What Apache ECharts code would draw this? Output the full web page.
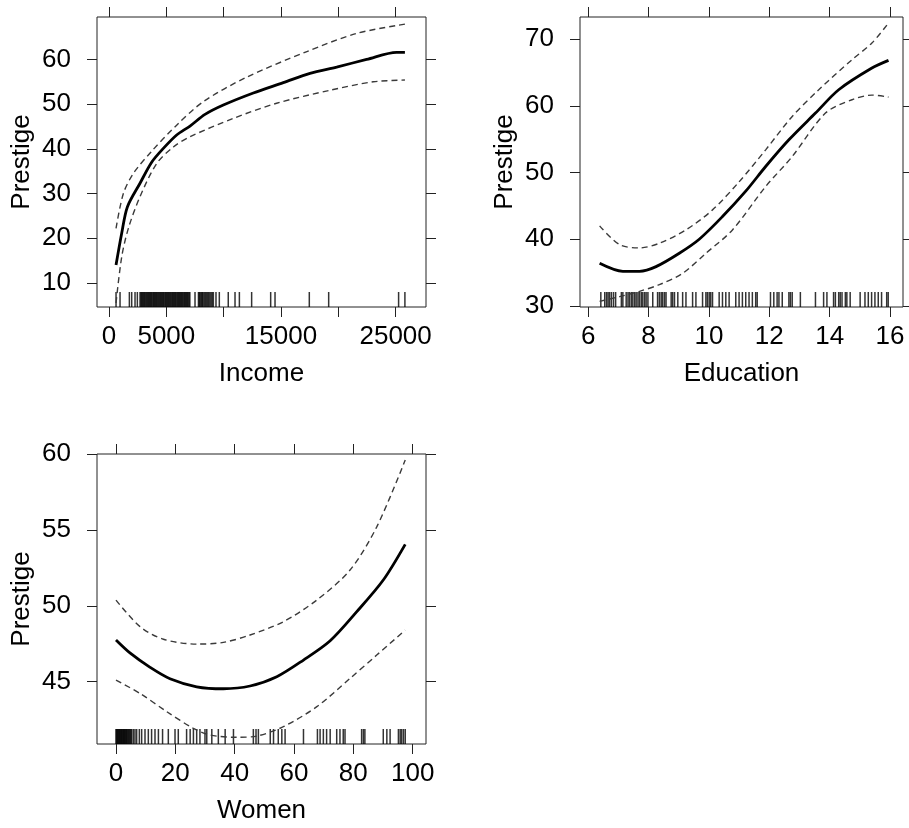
<!DOCTYPE html>
<html lang="en">
<head>
    <meta charset="UTF-8">
    <title>Effect plots</title>
    <style>
        body { margin: 0; background: #fff; }
        #main { width: 909px; height: 828px; }
    </style>
</head>
<body>
    <div id="main"></div>

    <script src="https://cdn.jsdelivr.net/npm/echarts@6/dist/echarts.min.js"></script>
    <script>
        // Income panel
        var incomeX = [610, 1105, 1599, 2703, 3720, 4738, 5900, 7063, 8371, 9970, 12586, 15200, 17527, 19855, 22470, 25085, 25810];
        var incomeFit = [14.0, 21.1, 27.0, 32.3, 37.0, 40.1, 43.1, 45.1, 47.7, 49.8, 52.5, 54.8, 56.9, 58.3, 60.0, 61.6, 61.6];
        var incomeUpX = [610, 1250, 2122, 3662, 5900, 8196, 11974, 17200, 21560, 25810];
        var incomeUp = [22.2, 30.0, 34.5, 39.3, 45.3, 50.5, 56.0, 61.7, 65.8, 67.9];
        var incomeLoX = [610, 1105, 1686, 2703, 4156, 5610, 7063, 10840, 14620, 19274, 23050, 25810];
        var incomeLo = [5.5, 15.8, 22.2, 29.3, 36.7, 40.4, 42.7, 46.8, 50.2, 53.1, 55.0, 55.4];
        var incomeRug = [611, 960, 1774, 1977, 2267, 2470, 2703, 2780, 2850, 2930, 3000, 3080, 3150, 3230, 3300,
            3380, 3450, 3530, 3600, 3680, 3750, 3830, 3900, 3980, 4050, 4130, 4200, 4280, 4350, 4430, 4500,
            4580, 4650, 4730, 4800, 4880, 4950, 5030, 5100, 5180, 5250, 5330, 5400, 5480, 5550, 5630, 5700,
            5780, 5850, 5930, 6000, 6080, 6150, 6230, 6300, 6380, 6450, 6530, 6600, 6680, 6750, 6830, 6900,
            6980, 7050, 7500, 7800, 7880, 7950, 8050, 8130, 8200, 8300, 8400, 8500, 8600, 8700, 8800, 8900,
            9000, 9100, 9330, 9620, 10400, 10990, 11370, 12440, 14100, 14480, 17470, 19160, 25260, 25810];
        var incomeTicks = [0, 5000, 10000, 15000, 20000, 25000];
        var incomeLabels = [0, 5000, 15000, 25000];
        var incomeYTicks = [10, 20, 30, 40, 50, 60];

        // Education panel
        var eduX = [6.38, 7.15, 7.70, 8.25, 9.02, 9.68, 10.45, 11.22, 11.88, 12.65, 13.53, 14.30, 15.40, 15.95];
        var eduFit = [36.4, 35.2, 35.2, 35.9, 37.9, 40.0, 43.4, 47.2, 50.9, 54.9, 58.9, 62.4, 65.65, 66.8];
        var eduUpX = [6.38, 7.04, 7.70, 8.36, 9.24, 10.12, 11.00, 11.88, 12.76, 13.64, 14.74, 15.40, 15.95];
        var eduUp = [42.0, 39.2, 38.7, 39.4, 41.4, 44.4, 48.6, 53.4, 58.4, 62.4, 66.9, 69.4, 72.4];
        var eduLoX = [6.38, 7.04, 7.70, 8.36, 9.13, 9.90, 10.78, 11.88, 12.76, 13.86, 14.74, 15.40, 15.95];
        var eduLo = [30.7, 31.4, 32.2, 33.2, 34.9, 37.9, 41.4, 47.9, 52.4, 58.9, 60.9, 61.6, 61.3];
        var eduRug = [6.42, 6.55, 6.61, 6.66, 6.71, 6.77, 6.84, 6.91, 7.10, 7.15, 7.26, 7.32, 7.37, 7.43, 7.48,
            7.54, 7.59, 7.65, 7.70, 7.76, 7.81, 7.87, 7.92, 7.98, 8.14, 8.30, 8.36, 8.42, 8.47, 8.53, 8.58,
            8.75, 8.80, 8.86, 8.97, 9.13, 9.24, 9.46, 9.57, 9.79, 9.90, 9.95, 10.01, 10.06, 10.12, 10.34,
            10.45, 10.56, 10.67, 10.89, 11.00, 11.11, 11.22, 11.33, 11.44, 11.55, 11.60, 12.04, 12.15, 12.26,
            12.32, 12.43, 12.65, 12.70, 12.76, 13.03, 13.53, 13.80, 13.91, 14.13, 14.19, 14.30, 14.35, 14.41,
            14.52, 14.57, 14.68, 15.01, 15.17, 15.28, 15.39, 15.50, 15.61, 15.72, 15.89, 15.94];
        var eduTicks = [6, 8, 10, 12, 14, 16];
        var eduYTicks = [30, 40, 50, 60, 70];

        // Women panel
        var womenX = [0, 4.7, 11.5, 18.2, 27.2, 36.2, 45.2, 54.2, 63.2, 72.2, 81.1, 90.1, 97.5];
        var womenFit = [47.75, 46.9, 45.95, 45.2, 44.67, 44.54, 44.72, 45.33, 46.43, 47.7, 49.6, 51.7, 54.05];
        var womenUpX = [0, 8.1, 16.0, 27.2, 36.2, 45.2, 56.4, 67.7, 78.9, 87.9, 97.5];
        var womenUp = [50.38, 48.63, 47.8, 47.48, 47.59, 48.08, 48.95, 50.38, 52.36, 55.2, 59.6];
        var womenLoX = [0, 8.1, 17.1, 26.1, 31.7, 40.7, 47.4, 56.4, 67.7, 78.9, 87.9, 97.5];
        var womenLo = [45.11, 44.23, 43.03, 41.93, 41.49, 41.34, 41.42, 42.04, 43.36, 45.22, 46.76, 48.4];
        var womenRug = [0, 0.2, 0.45, 0.65, 0.9, 1.1, 1.35, 1.55, 1.8, 2.0, 2.25, 2.5, 2.7, 2.9, 3.15, 3.4, 3.6,
            3.9, 4.16, 4.45, 4.72, 5.0, 5.28, 5.84, 6.4, 6.97, 7.87, 8.65, 9.78, 10.9, 12.0, 13.15, 14.3, 15.7,
            17.64, 19.9, 21.0, 23.8, 25.0, 26.1, 27.2, 28.3, 30.0, 30.6, 32.3, 34.5, 36.8, 39.6, 46.3, 47.2,
            48.0, 52.0, 53.1, 54.7, 55.9, 57.0, 63.2, 67.9, 68.8, 69.9, 71.0, 72.2, 74.4, 75.5, 76.6, 77.2,
            82.8, 83.4, 83.9, 90.1, 91.3, 92.4, 95.2, 95.8, 96.3, 96.9, 97.5];
        var womenTicks = [0, 20, 40, 60, 80, 100];
        var womenYTicks = [45, 50, 55, 60];

        var FONT = 'Liberation Sans, Arial, sans-serif';
        var FS = 26;

        function pair(xs, ys) {
            return xs.map(function (x, i) { return [x, ys[i]]; });
        }
        function plain(v) { return String(v); }

        var panels = [
            { grid: { left: 97, top: 17, width: 329, height: 290 }, xmin: -1050, xmax: 27650, ymin: 4.6, ymax: 69.5,
              xTicks: incomeTicks, xLabels: incomeLabels, yTicks: incomeYTicks, xName: 'Income',
              fit: pair(incomeX, incomeFit), up: pair(incomeUpX, incomeUp), lo: pair(incomeLoX, incomeLo), rug: incomeRug },
            { grid: { left: 580, top: 17, width: 323, height: 290 }, xmin: 5.73, xmax: 16.43, ymin: 29.85, ymax: 73.3,
              xTicks: eduTicks, xLabels: eduTicks, yTicks: eduYTicks, xName: 'Education',
              fit: pair(eduX, eduFit), up: pair(eduUpX, eduUp), lo: pair(eduLoX, eduLo), rug: eduRug },
            { grid: { left: 97, top: 454, width: 329, height: 290 }, xmin: -6.4, xmax: 104.5, ymin: 40.9, ymax: 60,
              xTicks: womenTicks, xLabels: womenTicks, yTicks: womenYTicks, xName: 'Women',
              fit: pair(womenX, womenFit), up: pair(womenUpX, womenUp), lo: pair(womenLoX, womenLo), rug: womenRug }
        ];

        var grids = [], xAxes = [], yAxes = [], series = [];
        var tick = { show: true, length: 10, inside: false, lineStyle: { color: '#222', width: 1 } };
        var noLine = { show: false, onZero: false };

        panels.forEach(function (p, i) {
            grids.push(Object.assign({ show: true, borderColor: '#222', borderWidth: 1, containLabel: false }, p.grid));
            xAxes.push({
                type: 'value', gridIndex: i, position: 'bottom', min: p.xmin, max: p.xmax,
                name: p.xName, nameLocation: 'middle', nameGap: 54,
                nameTextStyle: { fontFamily: FONT, fontSize: FS, color: '#000' },
                axisLine: noLine, splitLine: { show: false },
                axisTick: Object.assign({ customValues: p.xTicks }, tick),
                axisLabel: { customValues: p.xLabels, formatter: plain, margin: 17, fontFamily: FONT, fontSize: FS, color: '#000' }
            });
            xAxes.push({
                type: 'value', gridIndex: i, position: 'top', min: p.xmin, max: p.xmax,
                axisLine: noLine, splitLine: { show: false },
                axisTick: Object.assign({ customValues: p.xTicks }, tick),
                axisLabel: { show: false }
            });
            yAxes.push({
                type: 'value', gridIndex: i, position: 'left', min: p.ymin, max: p.ymax,
                name: 'Prestige', nameLocation: 'middle', nameGap: 62,
                nameTextStyle: { fontFamily: FONT, fontSize: FS, color: '#000' },
                axisLine: noLine, splitLine: { show: false },
                axisTick: Object.assign({ customValues: p.yTicks }, tick),
                axisLabel: { customValues: p.yTicks, formatter: plain, margin: 26, fontFamily: FONT, fontSize: FS, color: '#000' }
            });
            yAxes.push({
                type: 'value', gridIndex: i, position: 'right', min: p.ymin, max: p.ymax,
                axisLine: noLine, splitLine: { show: false },
                axisTick: Object.assign({ customValues: p.yTicks }, tick),
                axisLabel: { show: false }
            });

            var xi = i * 2, yi = i * 2;
            series.push({
                type: 'line', xAxisIndex: xi, yAxisIndex: yi, data: p.up, smooth: 0.3,
                symbol: 'none', lineStyle: { color: '#3a3a3a', width: 1.4, type: [6, 4] }
            });
            series.push({
                type: 'line', xAxisIndex: xi, yAxisIndex: yi, data: p.lo, smooth: 0.3,
                symbol: 'none', lineStyle: { color: '#3a3a3a', width: 1.4, type: [6, 4] }
            });
            series.push({
                type: 'line', xAxisIndex: xi, yAxisIndex: yi, data: p.fit, smooth: 0.3,
                symbol: 'none', lineStyle: { color: '#000', width: 2.8 }
            });
            series.push({
                type: 'scatter', xAxisIndex: xi, yAxisIndex: yi,
                data: p.rug.map(function (v) { return [v, p.ymin]; }),
                symbol: 'rect', symbolSize: [1.5, 15], symbolOffset: [0, -7.5],
                itemStyle: { color: '#000' }, silent: true
            });
        });

        var chart = echarts.init(document.getElementById('main'), null, { renderer: 'canvas' });
        chart.setOption({
            animation: false,
            backgroundColor: '#fff',
            grid: grids,
            xAxis: xAxes,
            yAxis: yAxes,
            series: series
        });
    </script>
</body>
</html>
